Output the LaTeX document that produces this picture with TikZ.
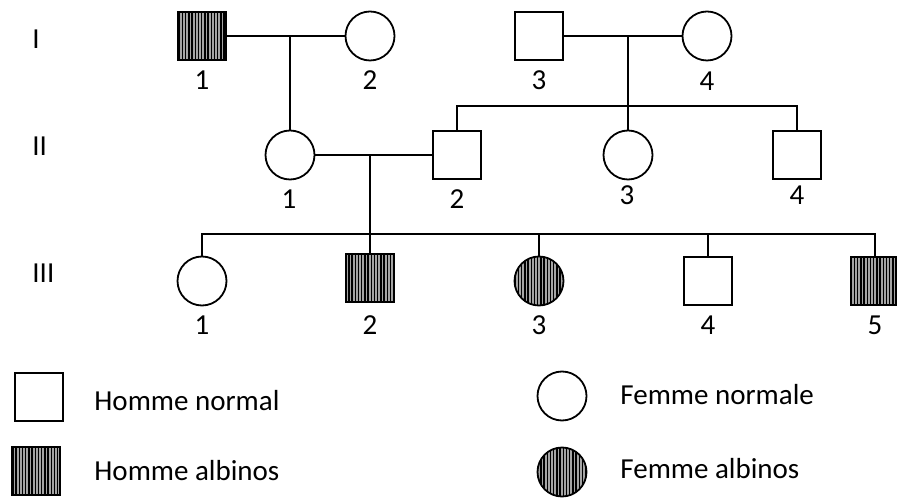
\documentclass[tikz,border=0pt]{standalone}
\usepackage{fontspec}
\setmainfont{Carlito}
\usetikzlibrary{patterns.meta}
\definecolor{FillAlb}{RGB}{165,165,165}

\begin{document}
\begin{tikzpicture}[x=0.5pt, y=-0.5pt,
            male/.style={draw, line width=0.9pt, rectangle, minimum size=24pt, inner sep=0pt, fill=white},
            female/.style={draw, line width=0.9pt, circle, minimum size=24.5pt, inner sep=0pt, fill=white},
            albinos/.style={preaction={fill=FillAlb}, pattern={Lines[angle=90, distance=1.6pt, line width=0.7pt]}, pattern color=black},
            num/.style={inner sep=0pt, font=\fontsize{14.5}{16}\selectfont},
            gen/.style={anchor=west, inner sep=0pt, font=\fontsize{14.5}{16}\selectfont},
            legtxt/.style={anchor=west, inner sep=0pt, font=\fontsize{14.5}{16}\selectfont},
            link/.style={line width=0.9pt}
        ]
            \useasboundingbox (0,0) rectangle (897,501);
            % generations
            \node[gen] (gI)   at (32, 39)  {I};
            \node[gen] (gII)  at (32, 146) {II};
            \node[gen] (gIII) at (32, 273) {III};
            % generation I
            \node[male, albinos] (I1) at (202, 36) {};
            \node[female]        (I2) at (370, 36) {};
            \node[male]          (I3) at (539, 36) {};
            \node[female]        (I4) at (707, 36) {};
            % generation II
            \node[female] (II1) at (290, 155) {};
            \node[male]   (II2) at (457, 155) {};
            \node[female] (II3) at (628, 155) {};
            \node[male]   (II4) at (797, 155) {};
            % generation III
            \node[female]          (III1) at (202, 281) {};
            \node[male, albinos]   (III2) at (370, 278) {};
            \node[female, albinos] (III3) at (539, 281) {};
            \node[male]            (III4) at (708, 281) {};
            \node[male, albinos]   (III5) at (875, 281) {};
            % numbers
            \node[num] (nI1) at (202, 80) {1};
            \node[num] (nI2) at (370, 80) {2};
            \node[num] (nI3) at (539, 80) {3};
            \node[num] (nI4) at (707, 81) {4};
            \node[num] (nII1) at (289, 199) {1};
            \node[num] (nII2) at (457, 199) {2};
            \node[num] (nII3) at (627, 195) {3};
            \node[num] (nII4) at (797, 195) {4};
            \node[num] (nIII1) at (202, 325) {1};
            \node[num] (nIII2) at (370, 325) {2};
            \node[num] (nIII3) at (539, 325) {3};
            \node[num] (nIII4) at (708, 325) {4};
            \node[num] (nIII5) at (875, 325) {5};
            % couples and siblings
            \coordinate (cI12)  at (290, 36);
            \coordinate (cI34)  at (628, 36);
            \coordinate (sII)   at (628, 106);
            \coordinate (cII12) at (370, 155);
            \coordinate (sIII)  at (370, 234);
            \draw[link] (I1.east) -- (I2.west);
            \draw[link] (cI12) -- (II1.north);
            \draw[link] (I3.east) -- (I4.west);
            \draw[link] (cI34) -- (sII);
            \draw[link] (II2.north) |- (sII) -| (II4.north);
            \draw[link] (sII) -- (II3.north);
            \draw[link] (II1.east) -- (II2.west);
            \draw[link] (cII12) -- (sIII);
            \draw[link] (III1.north) |- (sIII) -| (III5.north);
            \draw[link] (sIII) -- (III2.north);
            \draw[link] (III3.north) -- (III3.north |- sIII);
            \draw[link] (III4.north) -- (III4.north |- sIII);
            % legend
            \node[male]            (legM)  at (39, 397)  {};
            \node[male, albinos]   (legMA) at (36, 471)  {};
            \node[female]          (legF)  at (562, 396) {};
            \node[female, albinos] (legFA) at (562, 472) {};
            \node[legtxt] (tM)  at (94, 401)  {Homme normal};
            \node[legtxt] (tMA) at (94, 471)  {Homme albinos};
            \node[legtxt] (tF)  at (620, 395) {Femme normale};
            \node[legtxt] (tFA) at (620, 469) {Femme albinos};
        \end{tikzpicture}
\end{document}
